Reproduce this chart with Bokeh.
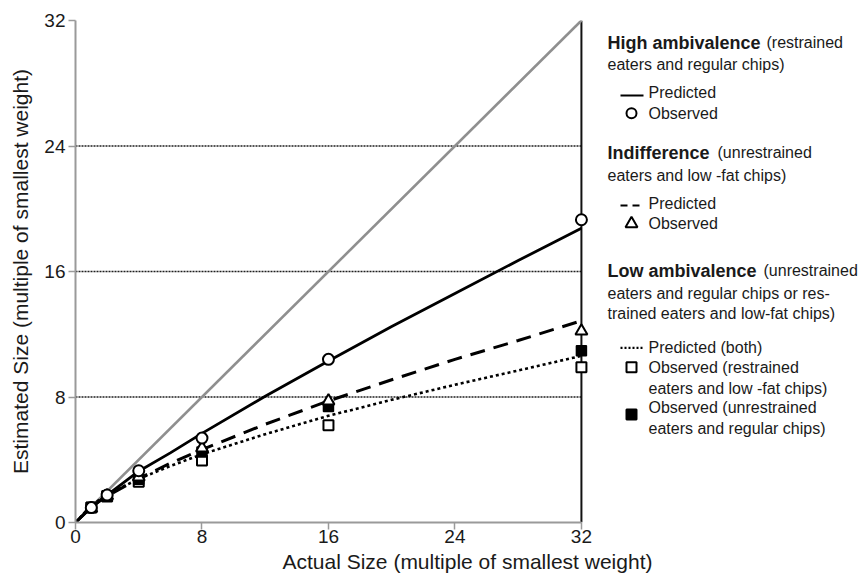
from bokeh.plotting import figure
from bokeh.models import Range1d, FixedTicker
from bokeh.core.properties import value
from bokeh.embed import file_html
from bokeh.resources import INLINE

# ---------------- data ----------------
TICKS = [0, 8, 16, 24, 32]
GRID_Y = [8, 16, 24]
AXIS_MAX = 32
DIAG_X = [0, 32]
DIAG_Y = [0, 32]

PRED_X = [0, 1, 2, 4, 6, 8, 12, 16, 20, 24, 28, 32]
PRED_HIGH = [0, 0.95, 1.74, 3.27, 4.44, 5.68, 8.05, 10.3, 12.5, 14.6, 16.7, 18.75]
PRED_INDIFF = [0, 1.0, 1.69, 2.8, 3.78, 4.65, 6.26, 7.75, 9.1, 10.4, 11.6, 12.86]
PRED_LOW = [0, 1.1, 1.78, 2.78, 3.6, 4.35, 5.63, 6.8, 7.82, 8.78, 9.69, 10.62]

OBS_X = [1, 2, 4, 8, 16, 32]
OBS_HIGH = [0.95, 1.75, 3.3, 5.38, 10.4, 19.3]
OBS_INDIFF = [0.9, 1.7, 2.9, 4.75, 7.75, 12.2]
OBS_LOW_UNR = [0.95, 1.7, 2.75, 4.5, 7.4, 10.95]
OBS_LOW_RES = [0.95, 1.65, 2.6, 3.95, 6.2, 9.9]

FONT = value("Liberation Sans")

# ---------------- figure ----------------
W, H = 859, 579
FRAME_LEFT, FRAME_TOP, FRAME_BOTTOM = 75, 20, 57
X_END = (W - FRAME_LEFT) / 15.81
p = figure(width=W, height=H, output_backend="svg", toolbar_location=None,
           x_range=Range1d(0, X_END), y_range=Range1d(0, 32),
           min_border_left=FRAME_LEFT, min_border_right=0,
           min_border_top=FRAME_TOP, min_border_bottom=FRAME_BOTTOM)
p.outline_line_color = None
p.xgrid.visible = False
p.ygrid.visible = False
p.background_fill_color = "white"
p.border_fill_color = "white"

for ax in (p.xaxis[0], p.yaxis[0]):
    ax.ticker = FixedTicker(ticks=TICKS)
    ax.bounds = (0, AXIS_MAX)
    ax.axis_line_color = "#9a9a9a"
    ax.axis_line_width = 2
    ax.major_tick_line_color = "#9a9a9a"
    ax.major_tick_line_width = 1.5
    ax.major_tick_out = 7
    ax.major_tick_in = 0
    ax.minor_tick_line_color = None
    ax.major_label_text_font = "Liberation Sans"
    ax.major_label_text_font_size = "19px"
    ax.major_label_text_color = "#1a1a1a"
    ax.axis_label_text_font = "Liberation Sans"
    ax.axis_label_text_font_size = "21px"
    ax.axis_label_text_font_style = "normal"
    ax.axis_label_text_color = "#1a1a1a"
p.xaxis.axis_label = "Actual Size (multiple of smallest weight)"
p.yaxis.axis_label = "Estimated Size (multiple of smallest weight)"
p.xaxis.major_label_standoff = 0
p.xaxis.axis_label_standoff = 4
p.yaxis.major_label_standoff = 3
p.yaxis.axis_label_standoff = 9

# grid lines and right border
p.segment(x0=[0] * len(GRID_Y), y0=GRID_Y, x1=[AXIS_MAX] * len(GRID_Y), y1=GRID_Y,
          line_color="#1e1e1e", line_width=1.6, line_dash="2 1")
p.segment(x0=[AXIS_MAX], y0=[0], x1=[AXIS_MAX], y1=[AXIS_MAX],
          line_color="#111111", line_width=2)

# identity line
p.line(DIAG_X, DIAG_Y, line_color="#8f8f8f", line_width=2.6)

# predicted curves
p.line(PRED_X, PRED_HIGH, line_color="black", line_width=2.8)
p.line(PRED_X, PRED_INDIFF, line_color="black", line_width=3, line_dash="15 9")
p.line(PRED_X, PRED_LOW, line_color="black", line_width=2.6, line_dash="3 3")

# observed points
p.scatter(OBS_X, OBS_LOW_RES, marker="square", size=10, fill_color="white",
          line_color="black", line_width=2)
p.scatter(OBS_X, OBS_LOW_UNR, marker="square", size=10, fill_color="black",
          line_color="black", line_width=1.5)
p.scatter(OBS_X, OBS_INDIFF, marker="triangle", size=12, fill_color="white",
          line_color="black", line_width=2)
p.scatter(OBS_X, OBS_HIGH, marker="circle", size=11, fill_color="white",
          line_color="black", line_width=2)

# ---------------- legend (layout positions in canvas pixels) ----------------
XPX_PER = 15.81
YPX0, YPX_PER = H - FRAME_BOTTOM, (H - FRAME_BOTTOM - FRAME_TOP) / 32.0


def dx(px):
    return (px - FRAME_LEFT) / XPX_PER


def dy(py):
    return (YPX0 - py) / YPX_PER


def txt(px, py, s, bold=False):
    p.text(x=[dx(px)], y=[dy(py)], text=[s], text_font=FONT,
           text_font_size="18px" if bold else "16px",
           text_font_style="bold" if bold else "normal",
           text_baseline="middle", text_align="left", text_color="#1a1a1a")


def seg(py, dash):
    p.line([dx(620), dx(643)], [dy(py), dy(py)], line_color="black",
           line_width=2.2, line_dash=dash)


def mark(py, marker, fill, size=10):
    p.scatter([dx(631)], [dy(py)], marker=marker, size=size,
              fill_color=fill, line_color="black", line_width=2)


txt(607, 42, "High ambivalence", bold=True)
txt(766, 42, "(restrained")
txt(607, 64, "eaters and regular chips)")
seg(95, "solid")
txt(648, 91.5, "Predicted")
mark(112.7, "circle", "white", 10)
txt(648, 112.7, "Observed")

txt(607, 152.3, "Indifference", bold=True)
txt(717, 152.3, "(unrestrained")
txt(607, 175, "eaters and low   -fat chips)")
seg(205, "7 5")
txt(648, 202.7, "Predicted")
mark(223.3, "triangle", "white", 12)
txt(648, 223.3, "Observed")

txt(607, 270, "Low ambivalence", bold=True)
txt(763, 270, "(unrestrained")
txt(607, 292.7, "eaters and regular chips or res-")
txt(607, 313, "trained eaters and low-fat chips)")
seg(347.3, "2 2")
txt(648, 346.7, "Predicted  (both)")
mark(366.7, "square", "white", 10)
txt(648, 366.7, "Observed  (restrained")
txt(648, 388, "eaters and low -fat chips)")
mark(414, "square", "black", 10)
txt(648, 406.7, "Observed  (unrestrained")
txt(648, 428.3, "eaters and regular chips)")

open("out.html", "w").write(file_html(p, INLINE))
